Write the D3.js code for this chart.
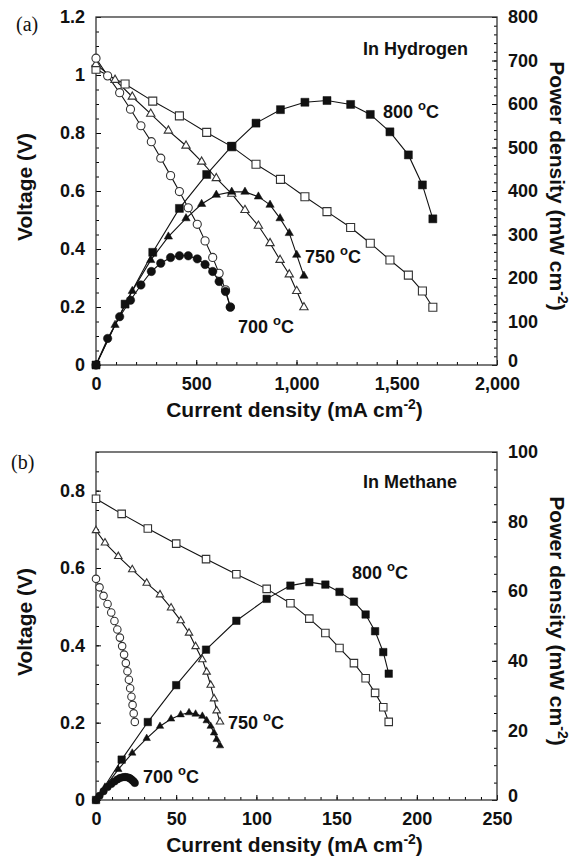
<!DOCTYPE html>
<html>
<head>
<meta charset="utf-8">
<script src="https://cdn.jsdelivr.net/npm/d3@7"></script>
<style>
  body { margin: 0; background: #fff; }
  svg text { font-family: "Liberation Sans", Arial, sans-serif; font-weight: bold; fill: #111; }
</style>
</head>
<body>
<div id="chart"></div>
<script>
// ---- (a) In Hydrogen ----
const h2Current700 = [0, 58, 118, 172, 224, 276, 323, 372, 416, 460, 505, 544, 582, 614, 646, 670];
const h2Voltage700 = [1.058, 0.997, 0.939, 0.882, 0.825, 0.770, 0.713, 0.653, 0.598, 0.542, 0.485, 0.428, 0.371, 0.316, 0.259, 0.200];
const h2Power700 = [0, 61, 111, 149, 184, 215, 234, 247, 251, 251, 244, 231, 215, 192, 169, 133];

const h2Current750 = [0, 95, 181, 273, 361, 449, 527, 600, 677, 743, 810, 868, 918, 964, 1001, 1037];
const h2Voltage750 = [1.037, 0.983, 0.925, 0.866, 0.808, 0.756, 0.701, 0.644, 0.590, 0.534, 0.480, 0.420, 0.362, 0.312, 0.255, 0.199];
const h2Power750 = [0, 92, 170, 241, 295, 337, 370, 391, 398, 398, 387, 368, 337, 303, 253, 205];

const h2Current800 = [0, 145, 283, 416, 552, 677, 798, 920, 1042, 1152, 1270, 1368, 1466, 1558, 1628, 1680];
const h2Voltage800 = [1.020, 0.969, 0.910, 0.859, 0.802, 0.753, 0.692, 0.640, 0.580, 0.529, 0.474, 0.420, 0.362, 0.310, 0.255, 0.199];
const h2Power800 = [0, 140, 259, 360, 438, 503, 556, 587, 604, 608, 599, 576, 536, 483, 414, 336];

// ---- (b) In Methane ----
const ch4Current700 = [0, 2.2, 4.7, 7.2, 9.5, 11.5, 13.3, 14.9, 16.3, 17.5, 18.6, 19.6, 20.5, 21.3, 22.1, 22.8, 23.5, 24.2];
const ch4Voltage700 = [0.572, 0.550, 0.528, 0.507, 0.485, 0.463, 0.441, 0.420, 0.398, 0.376, 0.354, 0.333, 0.311, 0.289, 0.267, 0.246, 0.224, 0.202];
const ch4Power700 = [0, 1.2, 2.5, 3.7, 4.6, 5.3, 5.9, 6.3, 6.5, 6.6, 6.6, 6.5, 6.4, 6.2, 5.9, 5.6, 5.3, 4.9];

const ch4Current750 = [0, 5.6, 13.9, 22.6, 31.6, 39.9, 46.8, 52.8, 58, 62.1, 66.3, 69, 71.5, 73.6, 75.2, 77.3];
const ch4Voltage750 = [0.697, 0.665, 0.630, 0.596, 0.561, 0.531, 0.497, 0.464, 0.432, 0.397, 0.363, 0.331, 0.297, 0.262, 0.231, 0.202];
const ch4Power750 = [0, 3.7, 8.8, 13.5, 17.7, 21.2, 23.3, 24.5, 25.1, 24.7, 24.1, 22.8, 21.2, 19.3, 17.4, 15.6];

const ch4Current800 = [0, 16, 32.3, 50, 68.6, 87.5, 106.4, 121.2, 133, 143, 151.8, 160.8, 168.1, 174, 179.1, 182.5];
const ch4Voltage800 = [0.779, 0.740, 0.702, 0.663, 0.623, 0.584, 0.546, 0.509, 0.469, 0.432, 0.393, 0.354, 0.315, 0.277, 0.240, 0.202];
const ch4Power800 = [0, 11.6, 22.4, 33, 43.2, 51.5, 57.8, 61.6, 62.6, 61.9, 59.8, 57, 53.3, 48.5, 42.5, 36.3];

// ticks
const h2CurrentTicks = [0, 500, 1000, 1500, 2000];
const h2VoltageTicks = [0, 0.2, 0.4, 0.6, 0.8, 1.0, 1.2];
const h2PowerTicks = [0, 100, 200, 300, 400, 500, 600, 700, 800];
const ch4CurrentTicks = [0, 50, 100, 150, 200, 250];
const ch4VoltageTicks = [0, 0.2, 0.4, 0.6, 0.8];
const ch4PowerTicks = [0, 20, 40, 60, 80, 100];

const svg = d3.select("#chart").append("svg")
    .attr("width", 583)
    .attr("height", 856);

const left = 96, right = 497;

function zip(xs, ys) {
  return xs.map((v, i) => [v, ys[i]]);
}

function drawPanel(p) {
  const x = d3.scaleLinear().domain([0, p.xMax]).range([left, right]);
  const yV = d3.scaleLinear().domain([0, p.vMax]).range([p.bottom, p.top]);
  const yP = d3.scaleLinear().domain([0, p.pMax]).range([p.bottom, p.top]);

  const g = svg.append("g");

  // --- axes (ticks pointing inward) ---
  const axisFont = a => a.attr("font-size", 18)
      .attr("font-family", "Liberation Sans, Arial, sans-serif")
      .attr("font-weight", "bold");

  g.append("g").attr("transform", `translate(0,${p.bottom})`)
      .call(d3.axisBottom(x).tickValues(d3.range(0, p.xMax + 1e-9, p.xMinor)).tickSize(-3).tickFormat("").tickSizeOuter(0))
      .call(a => a.select(".domain").remove());
  g.append("g").attr("transform", `translate(0,${p.bottom})`)
      .call(d3.axisBottom(x).tickValues(p.xTicks).tickSize(-5).tickPadding(12).tickFormat(d3.format(",")).tickSizeOuter(0))
      .call(axisFont)
      .call(a => a.select(".domain").remove());

  g.append("g").attr("transform", `translate(${left},0)`)
      .call(d3.axisLeft(yV).tickValues(d3.range(0, p.vMax + 1e-9, 0.05)).tickSize(-3).tickFormat("").tickSizeOuter(0))
      .call(a => a.select(".domain").remove());
  g.append("g").attr("transform", `translate(${left},0)`)
      .call(d3.axisLeft(yV).tickValues(p.vTicks).tickSize(-5).tickPadding(11)
        .tickFormat(d => d === 0 ? "0" : String(+d.toFixed(1))).tickSizeOuter(0))
      .call(axisFont)
      .call(a => a.select(".domain").remove());

  g.append("g").attr("transform", `translate(${right},0)`)
      .call(d3.axisRight(yP).tickValues(d3.range(0, p.pMax + 1e-9, p.pMinor)).tickSize(-3).tickFormat("").tickSizeOuter(0))
      .call(a => a.select(".domain").remove());
  g.append("g").attr("transform", `translate(${right},0)`)
      .call(d3.axisRight(yP).tickValues(p.pTicks).tickSize(-5).tickPadding(11).tickSizeOuter(0))
      .call(axisFont)
      .call(a => a.select(".domain").remove())
      // the zero label sits just above the last x label, as in the original
      .call(a => a.selectAll(".tick text").filter(d => d === 0).attr("dy", "0.1em"));

  // frame
  g.append("rect")
      .attr("x", left).attr("y", p.top)
      .attr("width", right - left).attr("height", p.bottom - p.top)
      .style("fill", "none").style("stroke", "#333").style("stroke-width", 1.3);

  // --- series ---
  p.series.forEach(s => {
    const y = s.kind === "V" ? yV : yP;
    const pts = zip(s.xs, s.ys);
    g.append("path")
        .datum(pts)
        .attr("d", d3.line().x(d => x(d[0])).y(d => y(d[1])))
        .style("fill", "none")
        .style("stroke", "#111")
        .style("stroke-width", 1.1);
  });
  p.series.forEach(s => {
    const y = s.kind === "V" ? yV : yP;
    const pts = zip(s.xs, s.ys);
    const sym = d3.symbol().type(s.shape).size(s.size);
    g.selectAll(null).data(pts).join("path")
        .attr("transform", d => `translate(${x(d[0])},${y(d[1])})`)
        .attr("d", sym)
        .style("fill", s.filled ? "#111" : "#fff")
        .style("stroke", s.filled ? "#111" : "#333")
        .style("stroke-width", s.filled ? 0.5 : 1.1);
  });

  // --- labels ---
  p.temps.forEach(t => {
    const txt = g.append("text").attr("x", t.x).attr("y", t.y).attr("font-size", 18);
    txt.append("tspan").text(t.label + " ");
    txt.append("tspan").attr("dy", -8).attr("font-size", 13).text("o");
    txt.append("tspan").attr("dy", 8).text("C");
  });

  g.append("text").attr("x", p.gasX).attr("y", p.gasY).attr("font-size", 18).text(p.gas);

  g.append("text").attr("x", p.letterX).attr("y", p.letterY)
      .style("font-family", "Liberation Serif, 'Times New Roman', serif")
      .style("font-weight", "normal")
      .attr("font-size", 20).text(p.letter);

  // x title
  const xt = g.append("text")
      .attr("x", (left + right) / 2 - 2)
      .attr("y", p.bottom + 52)
      .attr("text-anchor", "middle")
      .attr("font-size", 21);
  xt.append("tspan").text("Current density (mA cm");
  xt.append("tspan").attr("dy", -8).attr("font-size", 14).text("-2");
  xt.append("tspan").attr("dy", 8).text(")");

  // left title
  g.append("text")
      .attr("transform", `translate(32,${(p.top + p.bottom) / 2 - 4}) rotate(-90)`)
      .attr("text-anchor", "middle")
      .attr("font-size", 21)
      .text("Voltage (V)");

  // right title
  const rt = g.append("text")
      .attr("transform", `translate(550,${(p.top + p.bottom) / 2 - 5}) rotate(90)`)
      .attr("text-anchor", "middle")
      .attr("font-size", 21);
  rt.append("tspan").text("Power density (mW cm");
  rt.append("tspan").attr("dy", -8).attr("font-size", 14).text("-2");
  rt.append("tspan").attr("dy", 8).text(")");
}

const sq = d3.symbolSquare, tri = d3.symbolTriangle, cir = d3.symbolCircle;

drawPanel({
  top: 17, bottom: 365,
  xMax: 2000, xMinor: 100, xTicks: h2CurrentTicks,
  vMax: 1.2, vTicks: h2VoltageTicks,
  pMax: 800, pMinor: 20, pTicks: h2PowerTicks,
  gas: "In Hydrogen", gasX: 363, gasY: 55,
  letter: "(a)", letterX: 16, letterY: 31,
  temps: [
    { label: "800", x: 383, y: 118 },
    { label: "750", x: 305, y: 263 },
    { label: "700", x: 238, y: 333 }
  ],
  series: [
    { xs: h2Current800, ys: h2Voltage800, kind: "V", shape: sq, size: 64, filled: false },
    { xs: h2Current750, ys: h2Voltage750, kind: "V", shape: tri, size: 30, filled: false },
    { xs: h2Current700, ys: h2Voltage700, kind: "V", shape: cir, size: 52, filled: false },
    { xs: h2Current800, ys: h2Power800, kind: "P", shape: sq, size: 64, filled: true },
    { xs: h2Current750, ys: h2Power750, kind: "P", shape: tri, size: 30, filled: true },
    { xs: h2Current700, ys: h2Power700, kind: "P", shape: cir, size: 56, filled: true }
  ]
});

drawPanel({
  top: 452, bottom: 800,
  xMax: 250, xMinor: 10, xTicks: ch4CurrentTicks,
  vMax: 0.9, vTicks: ch4VoltageTicks,
  pMax: 100, pMinor: 5, pTicks: ch4PowerTicks,
  gas: "In Methane", gasX: 363, gasY: 488,
  letter: "(b)", letterX: 11, letterY: 469,
  temps: [
    { label: "800", x: 352, y: 579 },
    { label: "750", x: 228, y: 729 },
    { label: "700", x: 143, y: 783 }
  ],
  series: [
    { xs: ch4Current800, ys: ch4Voltage800, kind: "V", shape: sq, size: 56, filled: false },
    { xs: ch4Current750, ys: ch4Voltage750, kind: "V", shape: tri, size: 24, filled: false },
    { xs: ch4Current700, ys: ch4Voltage700, kind: "V", shape: cir, size: 44, filled: false },
    { xs: ch4Current800, ys: ch4Power800, kind: "P", shape: sq, size: 56, filled: true },
    { xs: ch4Current750, ys: ch4Power750, kind: "P", shape: tri, size: 24, filled: true },
    { xs: ch4Current700, ys: ch4Power700, kind: "P", shape: cir, size: 44, filled: true }
  ]
});
</script>
</body>
</html>
